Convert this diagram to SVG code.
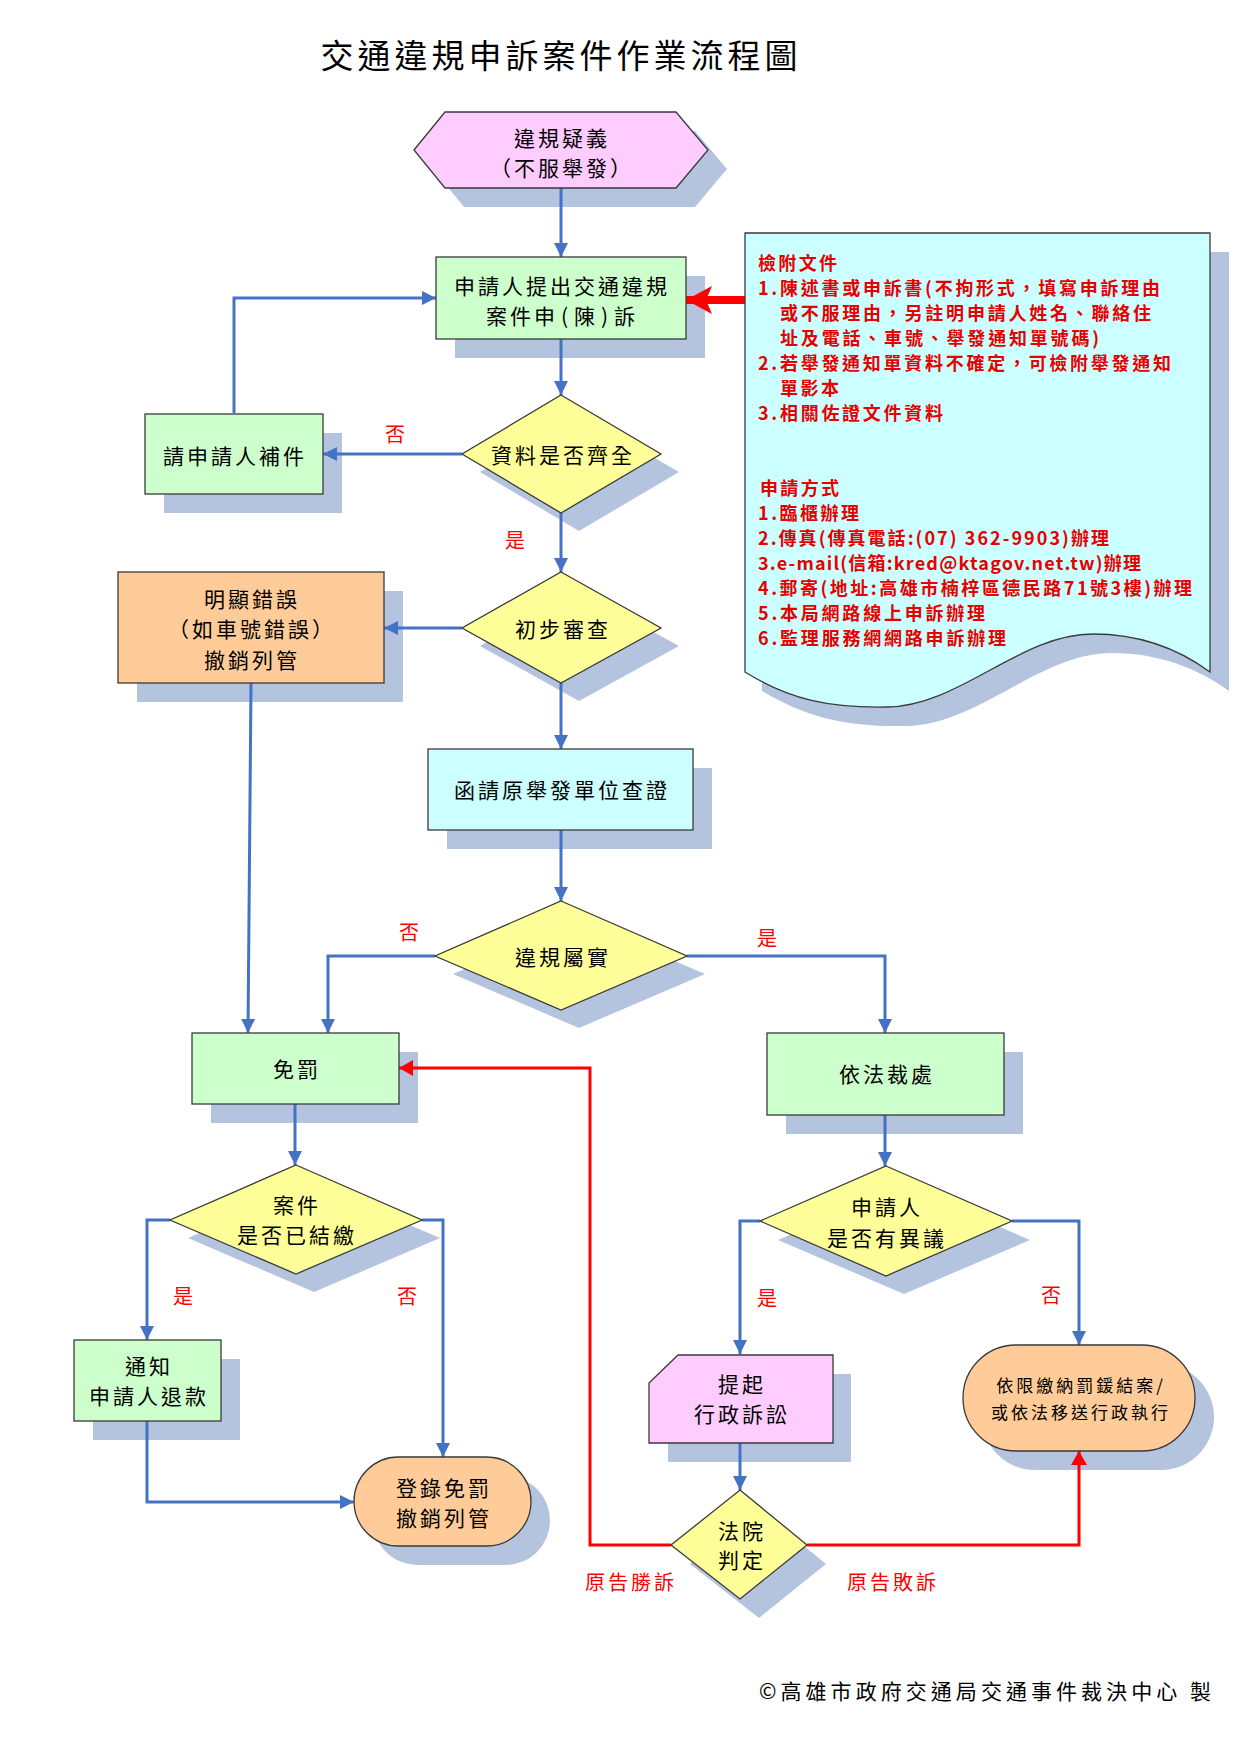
<svg xmlns="http://www.w3.org/2000/svg" width="1240" height="1754" viewBox="0 0 1240 1754">
<style>
text{font-family:"Noto Sans CJK TC","Noto Sans CJK SC",sans-serif;}
.t{font-size:21px;letter-spacing:3px;text-anchor:middle;dominant-baseline:central;fill:#000}
.ts{font-size:17px;letter-spacing:3px;text-anchor:middle;dominant-baseline:central;fill:#000}
.lbl{font-size:20px;text-anchor:middle;dominant-baseline:central;fill:#ff0000}
.lbl2{font-size:20px;letter-spacing:3px;text-anchor:middle;dominant-baseline:central;fill:#ff0000}
.nt{font-size:18px;font-weight:bold;dominant-baseline:central;fill:#e60000}
.sh{fill:#b4c4df;stroke:none}
.nd{stroke:#3a3a3a;stroke-width:1.3}
.pink{fill:#ffccff}.green{fill:#ccffcc}.yel{fill:#ffff99}.org{fill:#ffcc99}.cyan{fill:#ccffff}
.c{fill:none;stroke:#4472c4;stroke-width:3}
.cr{fill:none;stroke:#ff0000;stroke-width:3}
</style>
<defs>
<marker id="ab" markerUnits="userSpaceOnUse" markerWidth="14" markerHeight="14" refX="14" refY="7" orient="auto"><path d="M0,0 L14,7 L0,14 z" fill="#4472c4"/></marker>
<marker id="ar" markerUnits="userSpaceOnUse" markerWidth="14" markerHeight="16" refX="14" refY="8" orient="auto"><path d="M0,0 L14,8 L0,16 z" fill="#ff0000"/></marker>
<marker id="abig" markerUnits="userSpaceOnUse" markerWidth="26" markerHeight="28" refX="26" refY="14" orient="auto"><path d="M0,0 L26,14 L0,28 L6,14 z" fill="#ff0000"/></marker>
</defs>
<rect width="1240" height="1754" fill="#ffffff"/>

<text x="561" y="54" style="font-size:33px;letter-spacing:4px;text-anchor:middle;dominant-baseline:central;fill:#000">交通違規申訴案件作業流程圖</text>

<!-- shadows -->
<g id="shadows">
<polygon class="sh" points="433,169 464,131 695,131 727,169 695,207 464,207"/>
<rect class="sh" x="455" y="276" width="250" height="82"/>
<path class="sh" d="M764,252 H1229 V691 C1199,669 1159,653 1112,653 C1039,653 979,725 906,726 C849,727 809,719 762,691 Z"/>
<rect class="sh" x="164" y="433" width="178" height="80"/>
<polygon class="sh" points="579,414 679,472 579,531 480,472"/>
<rect class="sh" x="137" y="591" width="266" height="111"/>
<polygon class="sh" points="579,591 679,646 579,701 480,646"/>
<rect class="sh" x="447" y="768" width="265" height="81"/>
<polygon class="sh" points="579,920 705,974 579,1028 453,974"/>
<rect class="sh" x="211" y="1052" width="207" height="71"/>
<rect class="sh" x="786" y="1052" width="237" height="82"/>
<polygon class="sh" points="314,1184 440,1238 314,1292 188,1238"/>
<polygon class="sh" points="904,1185 1030,1240 904,1294 778,1240"/>
<rect class="sh" x="93" y="1359" width="147" height="81"/>
<rect class="sh" x="373" y="1476" width="177" height="89" rx="44.5"/>
<path class="sh" d="M697,1374 H851 V1462 H668 V1402 Z"/>
<rect class="sh" x="982" y="1364" width="232" height="106" rx="53"/>
<polygon class="sh" points="759,1509 826,1564 759,1618 690,1564"/>
</g>

<!-- connectors -->
<g id="connectors">
<path class="c" d="M561,188 V257" marker-end="url(#ab)"/>
<path class="c" d="M234,413 V298 H436" marker-end="url(#ab)"/>
<path class="c" d="M561,339 V395" marker-end="url(#ab)"/>
<path class="c" d="M462,454 H323" marker-end="url(#ab)"/>
<path class="c" d="M561,513 V572" marker-end="url(#ab)"/>
<path class="c" d="M462,628 H384" marker-end="url(#ab)"/>
<path class="c" d="M561,683 V749" marker-end="url(#ab)"/>
<path class="c" d="M561,830 V901" marker-end="url(#ab)"/>
<path class="c" d="M435,956 H328 V1033" marker-end="url(#ab)"/>
<path class="c" d="M687,956 H885 V1033" marker-end="url(#ab)"/>
<path class="c" d="M251,683 L248,1033" marker-end="url(#ab)"/>
<path class="c" d="M295,1104 V1165" marker-end="url(#ab)"/>
<path class="c" d="M170,1220 H147 V1340" marker-end="url(#ab)"/>
<path class="c" d="M422,1220 H443 V1457" marker-end="url(#ab)"/>
<path class="c" d="M147,1421 V1502 H354" marker-end="url(#ab)"/>
<path class="c" d="M885,1115 V1166" marker-end="url(#ab)"/>
<path class="c" d="M760,1221 H740 V1354" marker-end="url(#ab)"/>
<path class="c" d="M1012,1221 H1079 V1345" marker-end="url(#ab)"/>
<path class="c" d="M740,1442 V1490" marker-end="url(#ab)"/>
<path class="cr" d="M671,1545 H590 V1068 H399" marker-end="url(#ar)"/>
<path class="cr" d="M807,1545 H1079 V1451" marker-end="url(#ar)"/>
<path d="M745,300 H686" fill="none" stroke="#ff0000" stroke-width="8" stroke-linecap="round" marker-end="url(#abig)"/>
<text class="lbl" x="395" y="433">否</text>
<text class="lbl" x="515" y="539">是</text>
<text class="lbl" x="409" y="931">否</text>
<text class="lbl" x="767" y="937">是</text>
<text class="lbl" x="183" y="1295">是</text>
<text class="lbl" x="407" y="1295">否</text>
<text class="lbl" x="767" y="1297">是</text>
<text class="lbl" x="1051" y="1294">否</text>
<text class="lbl2" x="631" y="1581">原告勝訴</text>
<text class="lbl2" x="893" y="1581">原告敗訴</text>
</g>

<g id="n-start">
<polygon class="nd pink" points="414,150 445,112 676,112 708,150 676,188 445,188"/>
<text class="t" x="562" y="137">違規疑義</text>
<text class="t" x="562" y="167">（不服舉發）</text>
</g>

<g id="n-apply">
<rect class="nd green" x="436" y="257" width="250" height="82"/>
<text class="t" x="562" y="285">申請人提出交通違規</text>
<text class="t" x="562" y="315">案件<tspan style="letter-spacing:6px">申(陳)</tspan>訴</text>
</g>

<g id="n-note">
<path class="nd cyan" d="M745,233 H1210 V672 C1180,650 1140,634 1093,634 C1020,634 960,706 887,707 C830,708 790,700 745,672 Z"/>
<text class="nt" x="758" y="262" textLength="79" lengthAdjust="spacing">檢附文件</text>
<text class="nt" x="758" y="287" textLength="402" lengthAdjust="spacing">1.陳述書或申訴書(不拘形式，填寫申訴理由</text>
<text class="nt" x="780" y="312" textLength="371" lengthAdjust="spacing">或不服理由，另註明申請人姓名、聯絡住</text>
<text class="nt" x="780" y="337" textLength="319" lengthAdjust="spacing">址及電話、車號、舉發通知單號碼)</text>
<text class="nt" x="758" y="362" textLength="413" lengthAdjust="spacing">2.若舉發通知單資料不確定，可檢附舉發通知</text>
<text class="nt" x="780" y="387" textLength="59" lengthAdjust="spacing">單影本</text>
<text class="nt" x="758" y="412" textLength="185" lengthAdjust="spacing">3.相關佐證文件資料</text>
<text class="nt" x="760" y="487" textLength="79" lengthAdjust="spacing">申請方式</text>
<text class="nt" x="758" y="512" textLength="101" lengthAdjust="spacing">1.臨櫃辦理</text>
<text class="nt" x="758" y="537" textLength="351" lengthAdjust="spacing">2.傳真(傳真電話:(07) 362-9903)辦理</text>
<text class="nt" x="758" y="562" textLength="383" lengthAdjust="spacing">3.e-mail(信箱:kred@ktagov.net.tw)辦理</text>
<text class="nt" x="758" y="587" textLength="434" lengthAdjust="spacing">4.郵寄(地址:高雄市楠梓區德民路71號3樓)辦理</text>
<text class="nt" x="758" y="612" textLength="227" lengthAdjust="spacing">5.本局網路線上申訴辦理</text>
<text class="nt" x="758" y="637" textLength="248" lengthAdjust="spacing">6.監理服務網網路申訴辦理</text>
</g>

<g id="n-supplement">
<rect class="nd green" x="145" y="414" width="178" height="80"/>
<text class="t" x="235" y="455">請申請人補件</text>
</g>

<g id="n-complete">
<polygon class="nd yel" points="561,395 661,454 561,513 462,454"/>
<text class="t" x="563" y="454">資料是否齊全</text>
</g>

<g id="n-error">
<rect class="nd org" x="118" y="572" width="266" height="111"/>
<text class="t" x="252" y="598">明顯錯誤</text>
<text class="t" x="252" y="628">（如車號錯誤）</text>
<text class="t" x="252" y="659">撤銷列管</text>
</g>

<g id="n-review">
<polygon class="nd yel" points="561,572 661,628 561,683 462,628"/>
<text class="t" x="563" y="628">初步審查</text>
</g>

<g id="n-verify">
<rect class="nd cyan" x="428" y="749" width="265" height="81"/>
<text class="t" x="562" y="789">函請原舉發單位查證</text>
</g>

<g id="n-true">
<polygon class="nd yel" points="561,901 687,956 561,1010 435,956"/>
<text class="t" x="563" y="956">違規屬實</text>
</g>

<g id="n-exempt">
<rect class="nd green" x="192" y="1033" width="207" height="71"/>
<text class="t" x="297" y="1068">免罰</text>
</g>

<g id="n-punish">
<rect class="nd green" x="767" y="1033" width="237" height="82"/>
<text class="t" x="887" y="1073">依法裁處</text>
</g>

<g id="n-paid">
<polygon class="nd yel" points="296,1165 422,1220 296,1274 170,1220"/>
<text class="t" x="297" y="1204">案件</text>
<text class="t" x="297" y="1234">是否已結繳</text>
</g>

<g id="n-objection">
<polygon class="nd yel" points="886,1166 1012,1221 886,1276 760,1221"/>
<text class="t" x="887" y="1206">申請人</text>
<text class="t" x="887" y="1237">是否有異議</text>
</g>

<g id="n-refund">
<rect class="nd green" x="74" y="1340" width="147" height="81"/>
<text class="t" x="149" y="1365">通知</text>
<text class="t" x="149" y="1395">申請人退款</text>
</g>

<g id="n-close">
<rect class="nd org" x="354" y="1457" width="177" height="89" rx="44.5"/>
<text class="t" x="444" y="1487">登錄免罰</text>
<text class="t" x="444" y="1517">撤銷列管</text>
</g>

<g id="n-lawsuit">
<path class="nd pink" d="M678,1355 H833 V1443 H649 V1383 Z"/>
<text class="t" x="742" y="1383">提起</text>
<text class="t" x="742" y="1413">行政訴訟</text>
</g>

<g id="n-court">
<polygon class="nd yel" points="740,1490 807,1545 740,1599 671,1545"/>
<text class="t" x="742" y="1530">法院</text>
<text class="t" x="742" y="1559">判定</text>
</g>

<g id="n-enforce">
<rect class="nd org" x="963" y="1345" width="232" height="106" rx="53"/>
<text class="ts" x="1081" y="1384">依限繳納罰鍰結案/</text>
<text class="ts" x="1081" y="1411">或依法移送行政執行</text>
</g>

<text x="759" y="1690" textLength="452" lengthAdjust="spacing" style="font-size:21px;dominant-baseline:central;fill:#000">©高雄市政府交通局交通事件裁決中心 製</text>
</svg>
